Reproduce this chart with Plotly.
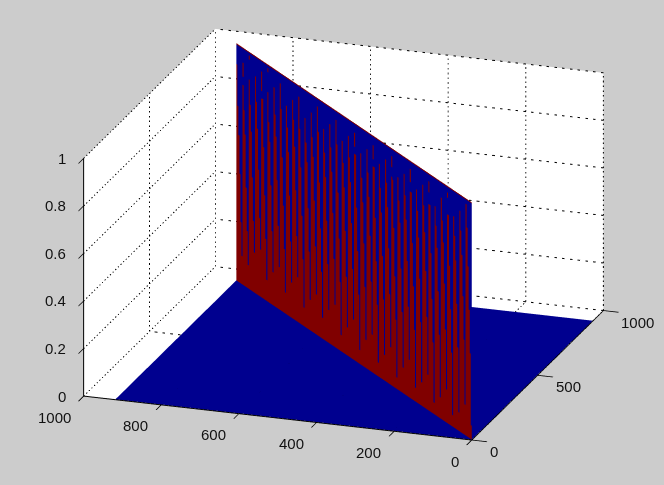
import plotly.graph_objects as go

BLUE = "#00008F"
RED = "#800000"
GRAY = "#CCCCCC"

x_ticks = [0, 500, 1000]
y_ticks = [0, 200, 400, 600, 800, 1000]
z_ticks = [0, 0.2, 0.4, 0.6, 0.8, 1]
z_tick_labels = ["0", "0.2", "0.4", "0.6", "0.8", "1"]
data_extent = 918

core_top = [.912,.936,.984,.914,.952,.984,.921,.955,.879,.921,.952,.880,.921,.964,.887,.925,.960,.890,.928,.959,
            .890,.925,.959,.899,.935,.966,.895,.927,.965,.896,.934,.966,.879,.933,.972,.889,.931,.977]
wide_top = [.74,.74,.78,.81,.84,.76,.81,.85,.79,.84,.82,.78,.82,.86,.79,.83,.86,.80,.84,.87,
            .79,.83,.87,.80,.84,.87,.80,.84,.87,.81,.85,.87,.80,.84,.88,.81,.85,.88]
mid_top = [.62,.64,.67,.70,.64,.68,.72,.65,.69,.73,.66,.70,.74,.65,.69,.73,.66,.70,.74,.65,
           .69,.73,.66,.70,.74,.67,.71,.74,.66,.70,.74,.67,.71,.75,.67,.71,.75,.72]
shoulder_top = [.46,.42,.48,.53,.44,.50,.54,.45,.51,.55,.46,.51,.56,.46,.51,.56,.47,.52,.57,.47,
                .52,.57,.48,.52,.57,.47,.52,.57,.48,.53,.58,.48,.53,.58,.49,.53,.58,.54]
outer_top = [.26,.24,.30,.33,.26,.31,.35,.27,.32,.36,.28,.33,.37,.28,.33,.37,.29,.33,.38,.29,
             .34,.38,.30,.34,.38,.29,.34,.38,.30,.35,.39,.30,.35,.39,.31,.35,.40,.36]
inner_top = [.12,.10,.17,.20,.09,.14,.18,.09,.15,.19,.08,.13,.17,.09,.14,.18,.07,.12,.17,.06,
             .12,.16,.06,.11,.16,.05,.11,.16,.06,.10,.15,.05,.09,.14,.05,.08,.13,.06]
gap_stripes = [1, 2, 4, 5, 19, 22, 25, 28, 31, 34]
gap_lo = [.842, .883, .838, .883, .87, .87, .88, .87, .87, .88]
gap_hi = [.877, .967, .87, .967, .90, .90, .92, .91, .92, .95]
top_edge = 0.995
sub_width = 1 / 6

vx, vy, vz, ii, jj, kk, fc = [], [], [], [], [], [], []


def quad(x0, y0, x1, y1, z0, z1, color):
    n = len(vx)
    vx.extend([x0, x1, x1, x0])
    vy.extend([y0, y1, y1, y0])
    vz.extend([z0, z0, z1, z1])
    ii.extend([n, n])
    jj.extend([n + 1, n + 2])
    kk.extend([n + 2, n + 3])
    fc.extend([color, color])


step = data_extent / len(core_top)
for i in range(len(core_top)):
    t = data_extent - i * step
    heights = [core_top[i], wide_top[i], mid_top[i], shoulder_top[i], outer_top[i], inner_top[i]]
    for n, h in enumerate(heights):
        t2 = t - sub_width * step
        if n == 0 and i in gap_stripes:
            g = gap_stripes.index(i)
            quad(t, t, t2, t2, 0, gap_lo[g], RED)
            quad(t, t, t2, t2, gap_lo[g], gap_hi[g], BLUE)
            quad(t, t, t2, t2, gap_hi[g], h, RED)
        else:
            quad(t, t, t2, t2, 0, h, RED)
        quad(t, t, t2, t2, h, top_edge, BLUE)
        quad(t, t, t2, t2, top_edge, 1, RED)
        t = t2

light = dict(ambient=1, diffuse=0, specular=0, fresnel=0, roughness=1)
fig = go.Figure()
fig.add_trace(go.Mesh3d(x=vx, y=vy, z=vz, i=ii, j=jj, k=kk, facecolor=fc, flatshading=True,
                        lighting=light, hoverinfo="skip", showscale=False))
fig.add_trace(go.Mesh3d(x=[0, data_extent, data_extent, 0], y=[0, 0, data_extent, data_extent],
                        z=[0.002] * 4, i=[0, 0], j=[1, 2], k=[2, 3], facecolor=[BLUE, BLUE],
                        flatshading=True, lighting=light, hoverinfo="skip", showscale=False))


def grid(xs, ys, zs):
    fig.add_trace(go.Scatter3d(x=xs, y=ys, z=zs, mode="lines", showlegend=False, hoverinfo="skip",
                               line=dict(color="black", width=2, dash="dash")))


for v in x_ticks:
    grid([v, v], [0, 1000], [0, 0])
    grid([v, v], [1000, 1000], [0, 1])
for v in y_ticks:
    grid([0, 1000], [v, v], [0, 0])
    grid([1000, 1000], [v, v], [0, 1])
for v in z_ticks:
    grid([0, 1000], [1000, 1000], [v, v])
    grid([1000, 1000], [0, 1000], [v, v])

label_font = dict(family="Liberation Sans", size=15, color="#111111")
labels = []
for v in x_ticks:
    labels.append(dict(x=v, y=0, z=0, text=str(v), showarrow=False, xanchor="left", yanchor="middle",
                       xshift=16, yshift=-11.5, font=label_font))
for v in y_ticks:
    labels.append(dict(x=0, y=v, z=0, text=str(v), showarrow=False, xanchor="right", yanchor="middle",
                       xshift=-11, yshift=-21, font=label_font))
for v, s in zip(z_ticks, z_tick_labels):
    labels.append(dict(x=0, y=1000, z=v, text=s, showarrow=False, xanchor="right", yanchor="middle",
                       xshift=-16, yshift=0, font=label_font))

axis = dict(showgrid=False, zeroline=False, showline=True, linecolor="black", linewidth=2,
            ticks="outside", ticklen=16, tickcolor="black", tickwidth=2, showbackground=True,
            backgroundcolor="white", title=dict(text=""), showspikes=False, showticklabels=False)
k = 1.8
cx, cy, cz = -.0258, .0416, -.0313
fig.update_layout(
    width=664, height=485, margin=dict(l=0, r=0, t=0, b=0), paper_bgcolor=GRAY, showlegend=False,
    scene=dict(
        domain=dict(x=[0, 1], y=[0, 1]),
        bgcolor=GRAY,
        aspectmode="manual", aspectratio=dict(x=1.69, y=1.69, z=1.04),
        xaxis=dict(axis, range=[0, 1000], tickvals=x_ticks),
        yaxis=dict(axis, range=[0, 1000], tickvals=y_ticks),
        zaxis=dict(axis, range=[0, 1], tickvals=z_ticks, ticktext=z_tick_labels),
        annotations=labels,
        camera=dict(projection=dict(type="orthographic"),
                    eye=dict(x=-.893 * k + cx, y=-.303 * k + cy, z=.3337 * k + cz),
                    center=dict(x=cx, y=cy, z=cz), up=dict(x=0, y=0, z=1)),
    ),
)
fig.write_html("out.html", config=dict(displayModeBar=False),
               post_script="document.body.style.margin='0';document.body.style.background='#CCCCCC';")
